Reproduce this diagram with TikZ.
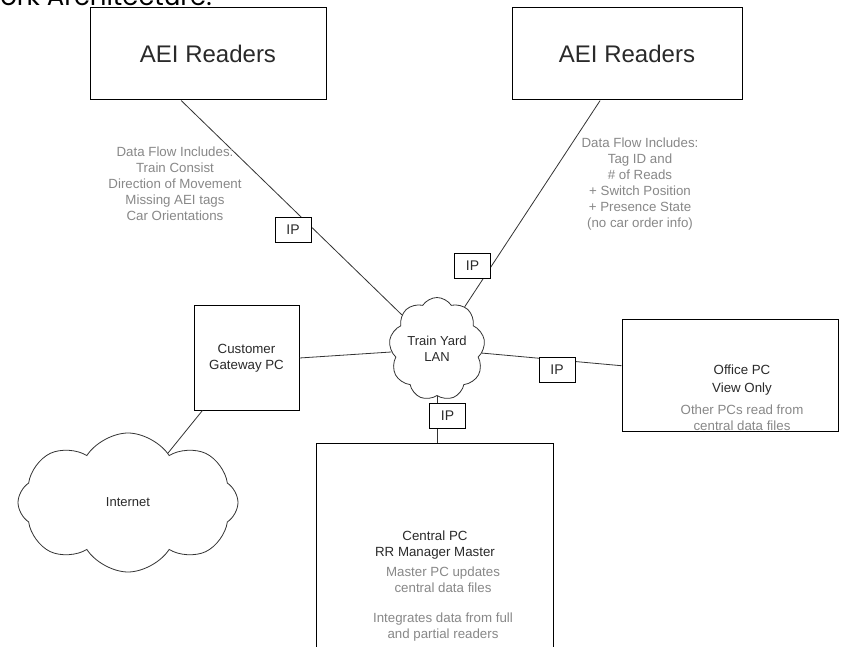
\documentclass[tikz,border=0pt]{standalone}
\usepackage{fontspec}
\setmainfont{Liberation Sans}
\newfontfamily\headfont{Poppins}
\usetikzlibrary{shapes.symbols}
\definecolor{txtgray}{HTML}{888888}
\definecolor{txtdark}{HTML}{2A2A2A}
\definecolor{linegray}{HTML}{333333}
\begin{document}
\begin{tikzpicture}[x=1pt,y=-1pt,
  box/.style={draw=black, line width=1pt, fill=white, inner sep=0pt, text=txtdark, align=center},
  ipbox/.style={draw=black, line width=0.9pt, fill=white, minimum width=36pt, minimum height=25pt, inner sep=0pt, font=\fontsize{14}{16}\selectfont, text=txtdark},
  cloudnode/.style={cloud, cloud puffs=9, cloud puff arc=115, draw=linegray, line width=0.8pt, fill=white, inner sep=0pt, align=center, text=txtdark, font=\fontsize{13}{16}\selectfont},
  conn/.style={draw=linegray, line width=0.8pt},
  graytext/.style={text=txtgray, align=center, font=\fontsize{13.3}{16}\selectfont},
  darktext/.style={text=txtdark, align=center, font=\fontsize{13.3}{16}\selectfont}]
\useasboundingbox (0,0) rectangle (844,647);
\clip (0,0) rectangle (844,647);
\fill[white] (0,0) rectangle (844,647);

\node[anchor=base east, inner sep=0pt, font=\headfont\fontsize{26}{30}\selectfont, text=black] (title) at (212,6) {Network Architecture:};

\node[box, minimum width=236pt, minimum height=92pt, font=\fontsize{24}{28}\selectfont] (readerL) at (208,54) {AEI Readers};
\node[box, minimum width=230pt, minimum height=92pt, font=\fontsize{24}{28}\selectfont] (readerR) at (627,54) {AEI Readers};
\node[cloudnode, minimum width=96pt, minimum height=103pt, aspect=0.93] (lan) at (437,349) {Train Yard\\LAN};
\node[box, minimum width=105pt, minimum height=104pt, font=\fontsize{13.3}{16}\selectfont] (gw) at (246.5,358) {Customer\\Gateway PC};
\node[box, minimum width=216pt, minimum height=111pt] (office) at (730,375.5) {};
\node[box, minimum width=237pt, minimum height=260pt, anchor=north] (central) at (434.5,443) {};
\node[cloudnode, cloud puffs=8, minimum width=220pt, minimum height=139pt, aspect=1.6] (inet) at (128,502.5) {Internet};

\draw[conn] (readerL.240) -- (lan);
\draw[conn] (readerR.240) -- (lan);
\draw[conn] (gw.east) -- (lan);
\draw[conn] (lan) -- (office);
\draw[conn] (lan) -- (lan |- central.north);
\draw[conn] (gw.230) -- (inet);

\node[ipbox] (ipL) at (293,230) {IP};
\node[ipbox] (ipR) at (472.5,266) {IP};
\node[ipbox] (ipE) at (557,370) {IP};
\node[ipbox] (ipB) at (447.5,416) {IP};

\node[graytext] (flowL) at (175,184) {Data Flow Includes:\\Train Consist\\Direction of Movement\\Missing AEI tags\\Car Orientations};
\node[graytext] (flowR) at (640,184) {Data Flow Includes:\\Tag ID and\\\# of Reads\\+ Switch Position\\+ Presence State\\(no car order info)};

\node[darktext, font=\fontsize{13.3}{18}\selectfont] (officeT) at (742,380) {Office PC\\View Only};
\node[graytext] (officeD) at (742,418) {Other PCs read from\\central data files};

\node[darktext] (centralT) at (435,545) {Central PC\\RR Manager Master};
\node[graytext] (centralD) at (443,579.5) {Master PC updates\\central data files};
\node[graytext] (centralD2) at (443,627) {Integrates data from full\\and partial readers};
\end{tikzpicture}
\end{document}
